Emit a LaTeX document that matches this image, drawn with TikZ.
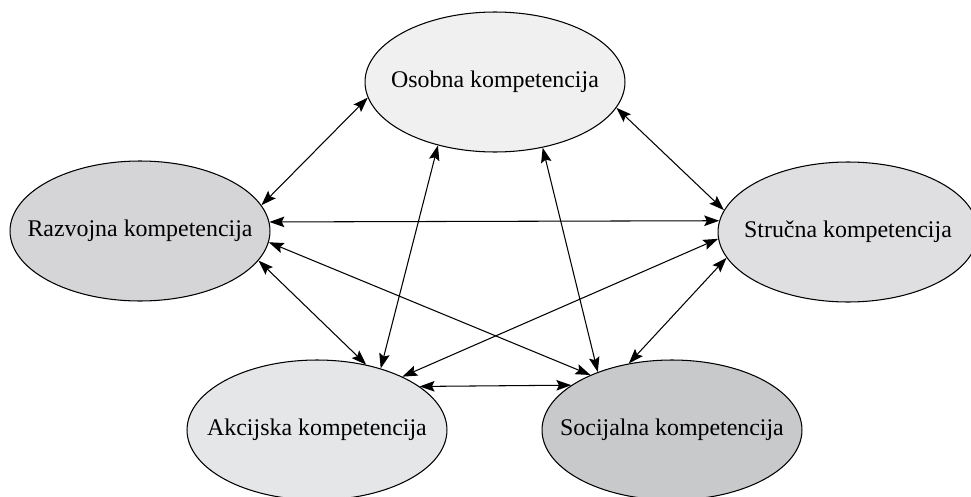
\documentclass[tikz,border=0pt]{standalone}
\usepackage{fontspec}
\setmainfont{Liberation Serif}
\usepackage{tikz}
\usetikzlibrary{shapes.geometric}
\usetikzlibrary{arrows.meta}
\definecolor{osobnafill}{HTML}{F0F0F0}
\definecolor{razvojnafill}{HTML}{D5D5D7}
\definecolor{strucnafill}{HTML}{DFDFE1}
\definecolor{akcijskafill}{HTML}{E5E6E8}
\definecolor{socijalnafill}{HTML}{C8C9CB}
\tikzset{
  komp/.style={ellipse, draw=black, line width=0.6pt,
    inner xsep=-12pt, inner ysep=0pt,
    minimum width=5.2cm, minimum height=2.8cm,
    font=\fontsize{13.6}{16}\selectfont},
  veza/.style={line width=0.6pt,
    {Stealth[length=8.5pt,width=6pt,inset=1.5pt]}-{Stealth[length=8.5pt,width=6pt,inset=1.5pt]}}
}
\newcommand{\komp}[4]{\node[komp, fill=#4] (#1) at ( #2 ) {#3};}
\newcommand{\veza}[2]{\draw[veza] ( #1 ) -- ( #2 );}

\begin{document}
\begin{tikzpicture}[x=0.02cm, y=-0.02cm]
\useasboundingbox (0,0) rectangle (971,497);
% the five competences
\komp{osobna}{495,82}{Osobna kompetencija}{osobnafill}
\komp{razvojna}{140,231}{Razvojna kompetencija}{razvojnafill}
\komp{strucna}{848,232}{Stručna kompetencija}{strucnafill}
\komp{akcijska}{317,430}{Akcijska kompetencija}{akcijskafill}
\komp{socijalna}{672,430}{Socijalna kompetencija}{socijalnafill}
% links from the top one
\veza{osobna.187.6}{razvojna.12.9}
\veza{osobna.348.5}{strucna.170}
\veza{osobna.228.9}{akcijska.44.1}
\veza{osobna.306.3}{socijalna.142.8}
% links from the left one
\veza{razvojna.4.3}{strucna.175.2}
\veza{razvojna.346.6}{akcijska.53.8}
\veza{razvojna.355.3}{socijalna.146.1}
% links from the right one
\veza{strucna.183.6}{akcijska.32.9}
\veza{strucna.192.2}{socijalna.123.9}
% bottom link
\veza{akcijska.23.2}{socijalna.156.6}
\end{tikzpicture}
\end{document}
